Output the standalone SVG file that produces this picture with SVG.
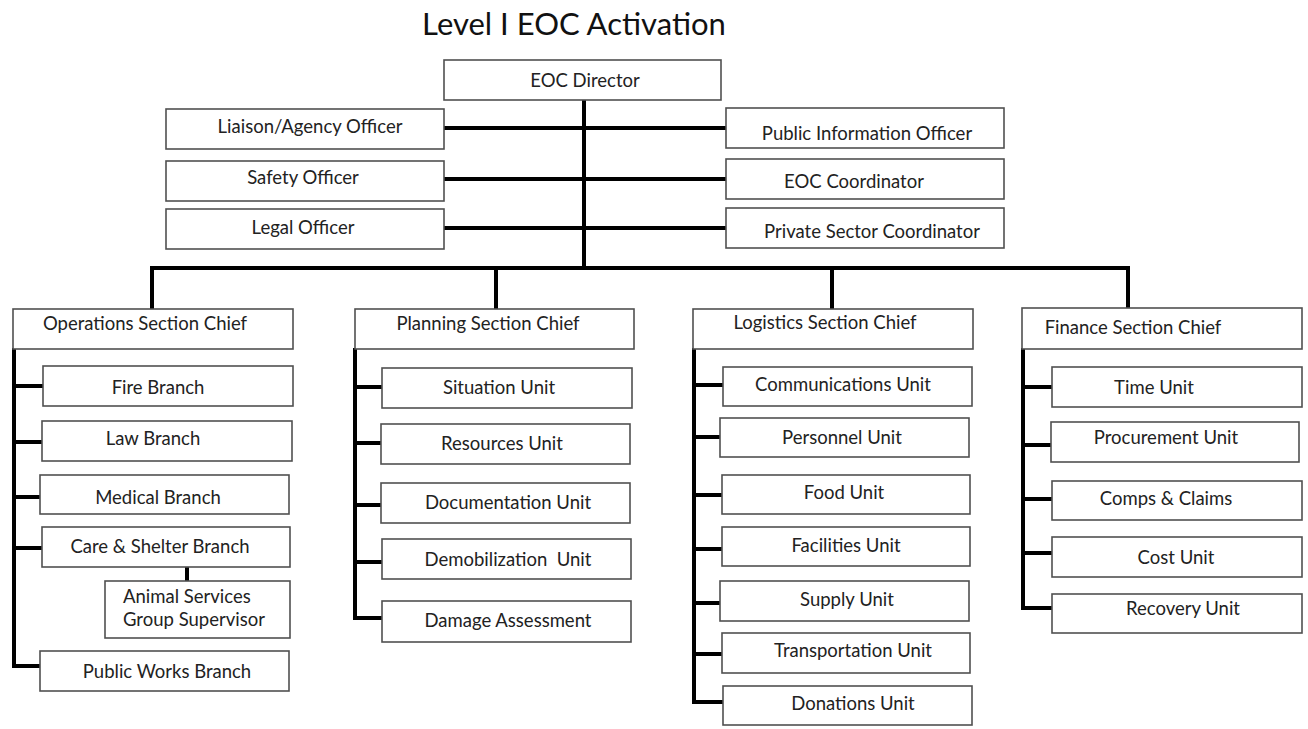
<svg xmlns="http://www.w3.org/2000/svg" width="1308" height="729" viewBox="0 0 1308 729">
<style>
.b{fill:#fff;stroke:#505050;stroke-width:1.6}
.t{font-family:Lato,"Liberation Sans",sans-serif;font-size:18.5px;fill:#222;text-anchor:middle}
.l{text-anchor:start}
.c{stroke:#000;stroke-width:4;fill:none;stroke-linecap:square}
.ttl{font-family:Lato,"Liberation Sans",sans-serif;font-size:31px;fill:#111;text-anchor:middle}
</style>
<rect width="1308" height="729" fill="#fff"/>
<text class="ttl" x="574" y="35">Level I EOC Activation</text>
<g id="connectors">
<path class="c" d="M584 100V268M446 128H724M446 179H724M446 228H724M152 268H1128M152 268V308M496 268V308M832 268V308M1128 268V307"/>
<path class="c" d="M14 350V666M14 386H42M14 442H41M14 497H39M14 548H41M14 666H39M187 568V580"/>
<path class="c" d="M355 350V618M355 387H381M355 443H380M355 505H380M355 562H381M355 618H381"/>
<path class="c" d="M694 350V702M694 385H722M694 437H719M694 495H721M694 549H721M694 603H719M694 654H721M694 702H722"/>
<path class="c" d="M1023 350V608M1023 387H1051M1023 445H1050M1023 499H1051M1023 553H1051M1023 608H1051"/>
</g>
<g id="eoc-director"><rect class="b" x="444" y="60" width="277" height="40"/><text class="t" x="585" y="87">EOC Director</text></g>
<g id="liaison"><rect class="b" x="166" y="109" width="278" height="40"/><text class="t" x="310" y="133">Liaison/Agency Officer</text></g>
<g id="safety"><rect class="b" x="166" y="161" width="278" height="40"/><text class="t" x="303" y="184">Safety Officer</text></g>
<g id="legal"><rect class="b" x="166" y="209" width="278" height="40"/><text class="t" x="303" y="234">Legal Officer</text></g>
<g id="pio"><rect class="b" x="726" y="108" width="278" height="40"/><text class="t" x="867" y="140">Public Information Officer</text></g>
<g id="eoc-coord"><rect class="b" x="726" y="159" width="278" height="40"/><text class="t" x="854" y="188">EOC Coordinator</text></g>
<g id="private"><rect class="b" x="726" y="208" width="278" height="40"/><text class="t" x="872" y="238">Private Sector Coordinator</text></g>

<g id="operations"><rect class="b" x="13" y="309" width="280" height="40"/><text class="t" x="145" y="330">Operations Section Chief</text></g>
<g id="fire"><rect class="b" x="43" y="366" width="250" height="40"/><text class="t" x="158" y="394">Fire Branch</text></g>
<g id="law"><rect class="b" x="42" y="421" width="250" height="40"/><text class="t" x="153" y="445">Law Branch</text></g>
<g id="medical"><rect class="b" x="40" y="475" width="249" height="39"/><text class="t" x="158" y="504">Medical Branch</text></g>
<g id="care"><rect class="b" x="42" y="527" width="248" height="40"/><text class="t" x="160" y="553">Care &amp; Shelter Branch</text></g>
<g id="animal"><rect class="b" x="105" y="581" width="185" height="57"/><text class="t l" x="123" y="603">Animal Services</text><text class="t l" x="123" y="626">Group Supervisor</text></g>
<g id="publicworks"><rect class="b" x="40" y="651" width="249" height="40"/><text class="t" x="167" y="678">Public Works Branch</text></g>

<g id="planning"><rect class="b" x="355" y="309" width="279" height="40"/><text class="t" x="488" y="330">Planning Section Chief</text></g>
<g id="situation"><rect class="b" x="382" y="368" width="250" height="40"/><text class="t" x="499" y="394">Situation Unit</text></g>
<g id="resources"><rect class="b" x="381" y="424" width="249" height="40"/><text class="t" x="502" y="450">Resources Unit</text></g>
<g id="documentation"><rect class="b" x="381" y="483" width="249" height="40"/><text class="t" x="508" y="509">Documentation Unit</text></g>
<g id="demobilization"><rect class="b" x="382" y="539" width="249" height="40"/><text class="t" x="508" y="566" xml:space="preserve">Demobilization  Unit</text></g>
<g id="damage"><rect class="b" x="382" y="601" width="249" height="41"/><text class="t" x="508" y="627">Damage Assessment</text></g>

<g id="logistics"><rect class="b" x="693" y="309" width="280" height="40"/><text class="t" x="825" y="329">Logistics Section Chief</text></g>
<g id="communications"><rect class="b" x="723" y="367" width="249" height="39"/><text class="t" x="843" y="391">Communications Unit</text></g>
<g id="personnel"><rect class="b" x="720" y="418" width="249" height="39"/><text class="t" x="842" y="444">Personnel Unit</text></g>
<g id="food"><rect class="b" x="722" y="475" width="248" height="39"/><text class="t" x="844" y="499">Food Unit</text></g>
<g id="facilities"><rect class="b" x="722" y="527" width="248" height="39"/><text class="t" x="846" y="552">Facilities Unit</text></g>
<g id="supply"><rect class="b" x="720" y="581" width="249" height="40"/><text class="t" x="847" y="606">Supply Unit</text></g>
<g id="transportation"><rect class="b" x="722" y="633" width="248" height="40"/><text class="t" x="853" y="657">Transportation Unit</text></g>
<g id="donations"><rect class="b" x="723" y="686" width="249" height="39"/><text class="t" x="853" y="710">Donations Unit</text></g>

<g id="finance"><rect class="b" x="1022" y="308" width="280" height="41"/><text class="t" x="1133" y="334">Finance Section Chief</text></g>
<g id="time"><rect class="b" x="1052" y="367" width="250" height="40"/><text class="t" x="1154" y="394">Time Unit</text></g>
<g id="procurement"><rect class="b" x="1051" y="422" width="248" height="40"/><text class="t" x="1166" y="444">Procurement Unit</text></g>
<g id="comps"><rect class="b" x="1052" y="481" width="250" height="39"/><text class="t" x="1166" y="505">Comps &amp; Claims</text></g>
<g id="cost"><rect class="b" x="1052" y="537" width="250" height="40"/><text class="t" x="1176" y="564">Cost Unit</text></g>
<g id="recovery"><rect class="b" x="1052" y="594" width="250" height="39"/><text class="t" x="1183" y="615">Recovery Unit</text></g>
</svg>
